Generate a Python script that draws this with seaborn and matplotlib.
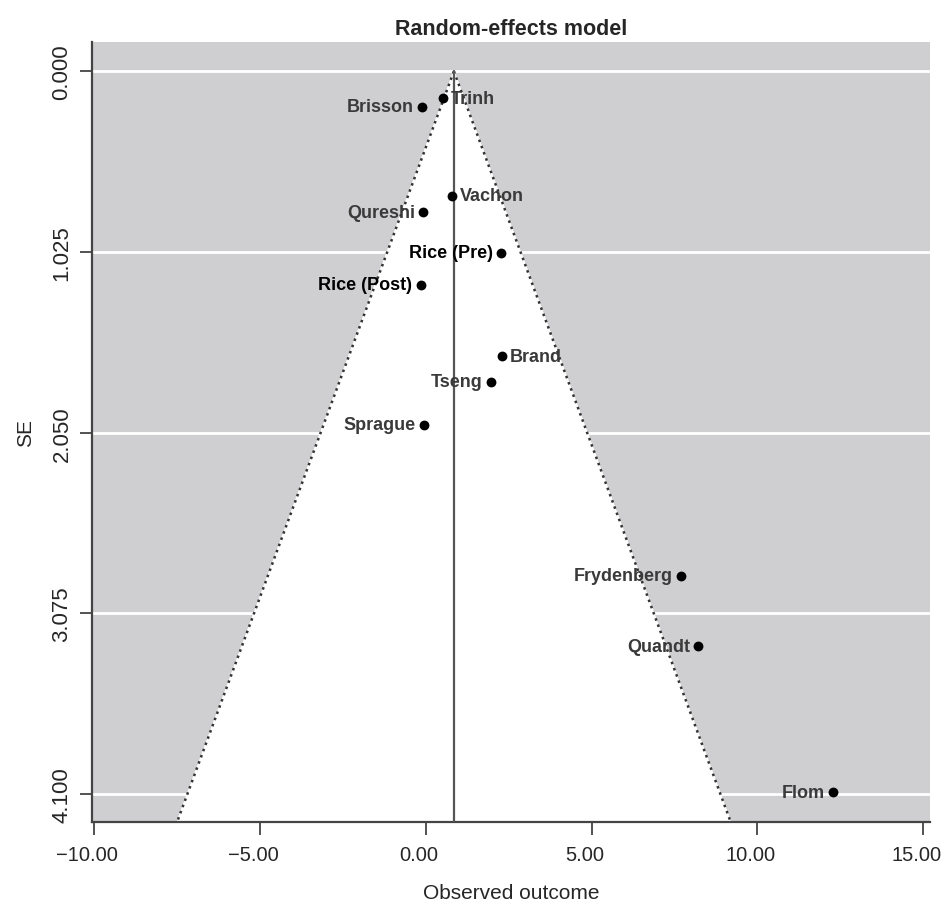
import numpy as np
import pandas as pd
import seaborn as sns
import matplotlib.pyplot as plt

# study estimates
studies = ['Trinh', 'Brisson', 'Vachon', 'Qureshi', 'Rice (Pre)', 'Rice (Post)',
           'Brand', 'Tseng', 'Sprague', 'Frydenberg', 'Quandt', 'Flom']
outcome = [0.51, -0.12, 0.78, -0.07, 2.28, -0.15, 2.29, 1.96, -0.06, 7.71, 8.22, 12.29]
se = [0.153, 0.20, 0.707, 0.80, 1.03, 1.21, 1.615, 1.76, 2.006, 2.86, 3.26, 4.09]
label_side = ['right', 'left', 'right', 'left', 'left', 'left',
              'right', 'left', 'left', 'left', 'left', 'left']

pooled = 0.85
se_max = 4.256
y_ticks = [0.0, 1.025, 2.05, 3.075, 4.1]
x_ticks = [-10, -5, 0, 5, 10, 15]

df = pd.DataFrame({'study': studies, 'yi': outcome, 'sei': se, 'side': label_side})

sns.set_style('white')
plt.rcParams['font.family'] = ['Liberation Sans', 'DejaVu Sans']

fig = plt.figure(figsize=(9.44, 9.04), dpi=100)
ax = fig.add_axes([0.0975, 0.09, 0.8875, 0.8624])

xlim = (-10.06, 15.2)
ylim = (se_max, -0.166)
ax.set_facecolor('#cfcfd1')

# white funnel region (pseudo 95% CI)
se_line = np.array([0.0, se_max])
lower = pooled - 1.96 * se_line
upper = pooled + 1.96 * se_line
for t in y_ticks:
    ax.axhline(t, color='white', lw=2, zorder=1)
ax.fill([pooled, lower[1], upper[1]], [0.0, se_max, se_max], color='white', zorder=2)
ax.plot(lower, se_line, color='#333333', ls=':', lw=1.8, zorder=3)
ax.plot(upper, se_line, color='#333333', ls=':', lw=1.8, zorder=3)
ax.plot([pooled, pooled], [0.0, se_max], color='#555555', lw=1.6, zorder=3)

sns.scatterplot(data=df, x='yi', y='sei', ax=ax, color='black', s=50,
                edgecolor='black', linewidth=0, zorder=5, legend=False)

for _, r in df.iterrows():
    if r.side == 'right':
        off, ha = 6, 'left'
    else:
        off, ha = -6, 'right'
    col = 'black' if r.study.startswith('Rice') else '#3a3a3a'
    ax.annotate(r.study, (r.yi, r.sei), xytext=(off, 0), textcoords='offset points',
                ha=ha, va='center', fontsize=13, fontweight='bold', color=col, zorder=6)

ax.set_xlim(*xlim)
ax.set_ylim(*ylim)
ax.set_xticks(x_ticks)
ax.set_yticks(y_ticks)
ax.set_yticklabels(['%.3f' % v for v in y_ticks], fontsize=16, rotation=90, va='center')
ax.tick_params(axis='both', direction='out', length=9, width=1.3, color='#444444',
               bottom=True, left=True)
ax.tick_params(axis='x', labelbottom=False)
ax.tick_params(axis='y', pad=5)
# x labels drawn by hand: in the original they sit a little left of their ticks
for v in x_ticks:
    txt = '\u2212%.2f' % abs(v) if v < 0 else '%.2f' % v
    ax.annotate(txt, (v, 0), xycoords=('data', 'axes fraction'), xytext=(-5, -17),
                textcoords='offset points', ha='center', va='top', fontsize=14.5,
                annotation_clip=False)

for s in ['top', 'right']:
    ax.spines[s].set_visible(False)
for s in ['left', 'bottom']:
    ax.spines[s].set_color('#444444')
    ax.spines[s].set_linewidth(1.6)

ax.set_xlabel('Observed outcome', fontsize=15)
ax.xaxis.set_label_coords(0.5, -0.079)
ax.set_ylabel('SE', fontsize=15, labelpad=12)
ax.set_title('Random-effects model', fontsize=15.5, fontweight='bold', pad=6)

fig.savefig('out.png', dpi=100)
